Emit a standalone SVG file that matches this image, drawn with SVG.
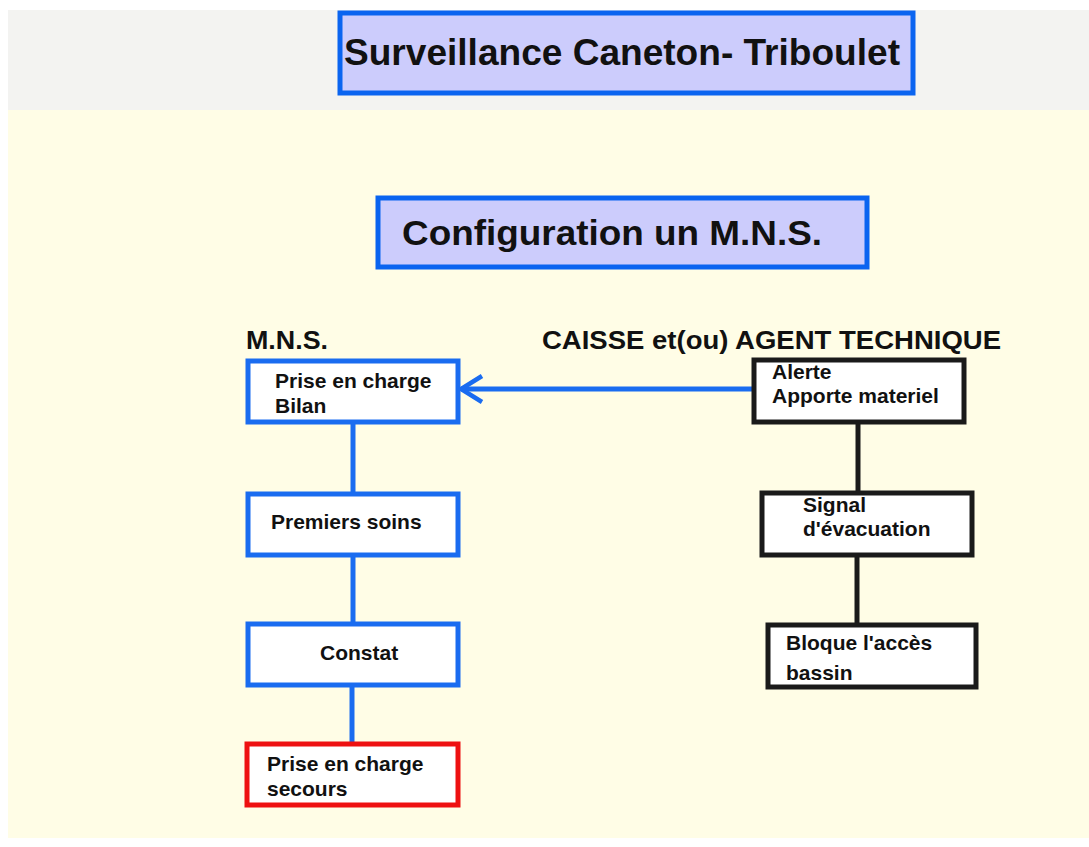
<svg xmlns="http://www.w3.org/2000/svg" width="1089" height="847" viewBox="0 0 1089 847">
<defs>
<style>
.t{font-family:"Liberation Sans",Arial,sans-serif;font-weight:bold;fill:#111}
.bb{fill:#ffffff;stroke:#1a6cf0;stroke-width:5}
.kb{fill:#ffffff;stroke:#1a1a1a;stroke-width:5}
.rb{fill:#ffffff;stroke:#ee1111;stroke-width:5}
.hb{fill:#ccccfc;stroke:#0a64f0;stroke-width:5}
.cb{stroke:#1a6cf0;stroke-width:5;fill:none}
.ck{stroke:#1a1a1a;stroke-width:5;fill:none}
.n{font-size:21px}
</style>
<marker id="ah" viewBox="0 0 28 30" refX="25" refY="15" markerWidth="28" markerHeight="30" markerUnits="userSpaceOnUse" orient="auto">
<path d="M4,2 L25,15 L4,28" fill="none" stroke="#1a6cf0" stroke-width="4.5"/>
</marker>
</defs>
<rect x="0" y="0" width="1089" height="847" fill="#ffffff"/>
<rect x="8" y="10" width="1081" height="100" fill="#f3f3f1"/>
<rect x="8" y="110" width="1081" height="728" fill="#fffde6"/>

<g id="title">
<rect class="hb" x="340" y="13" width="573" height="80"/>
<text class="t" x="622" y="65" font-size="37" text-anchor="middle" textLength="556" lengthAdjust="spacingAndGlyphs">Surveillance Caneton- Triboulet</text>
</g>
<g id="config">
<rect class="hb" x="378" y="198" width="489" height="69"/>
<text class="t" x="402" y="245" font-size="35" textLength="420" lengthAdjust="spacingAndGlyphs">Configuration un M.N.S.</text>
</g>
<g id="hdr-mns"><text class="t" x="246" y="349" font-size="26" textLength="82" lengthAdjust="spacingAndGlyphs">M.N.S.</text></g>
<g id="hdr-caisse"><text class="t" x="542" y="349" font-size="26" textLength="459" lengthAdjust="spacingAndGlyphs">CAISSE et(ou) AGENT TECHNIQUE</text></g>

<g id="connectors">
<line class="cb" x1="353" y1="422" x2="353" y2="493"/>
<line class="cb" x1="353" y1="555" x2="353" y2="623"/>
<line class="cb" x1="352" y1="685" x2="352" y2="743"/>
<line class="cb" x1="752" y1="389" x2="461" y2="389" marker-end="url(#ah)"/>
<line class="ck" x1="858" y1="422" x2="858" y2="492"/>
<line class="ck" x1="857" y1="555" x2="857" y2="624"/>
</g>

<g id="n-prise-bilan">
<rect class="bb" x="248" y="361" width="210" height="61"/>
<text class="t n" x="275" y="388">Prise en charge</text>
<text class="t n" x="275" y="413">Bilan</text>
</g>
<g id="n-premiers">
<rect class="bb" x="248" y="494" width="210" height="61"/>
<text class="t n" x="271" y="529">Premiers soins</text>
</g>
<g id="n-constat">
<rect class="bb" x="248" y="624" width="210" height="61"/>
<text class="t n" x="320" y="660">Constat</text>
</g>
<g id="n-secours">
<rect class="rb" x="247" y="744" width="211" height="61"/>
<text class="t n" x="267" y="771">Prise en charge</text>
<text class="t n" x="267" y="796">secours</text>
</g>
<g id="n-alerte">
<rect class="kb" x="754" y="360" width="210" height="62"/>
<text class="t n" x="772" y="379">Alerte</text>
<text class="t n" x="772" y="403">Apporte materiel</text>
</g>
<g id="n-signal">
<rect class="kb" x="762" y="493" width="210" height="62"/>
<text class="t n" x="803" y="512">Signal</text>
<text class="t n" x="803" y="536">d'évacuation</text>
</g>
<g id="n-bloque">
<rect class="kb" x="768" y="625" width="208" height="62"/>
<text class="t n" x="786" y="650">Bloque l'accès</text>
<text class="t n" x="786" y="680">bassin</text>
</g>
</svg>
